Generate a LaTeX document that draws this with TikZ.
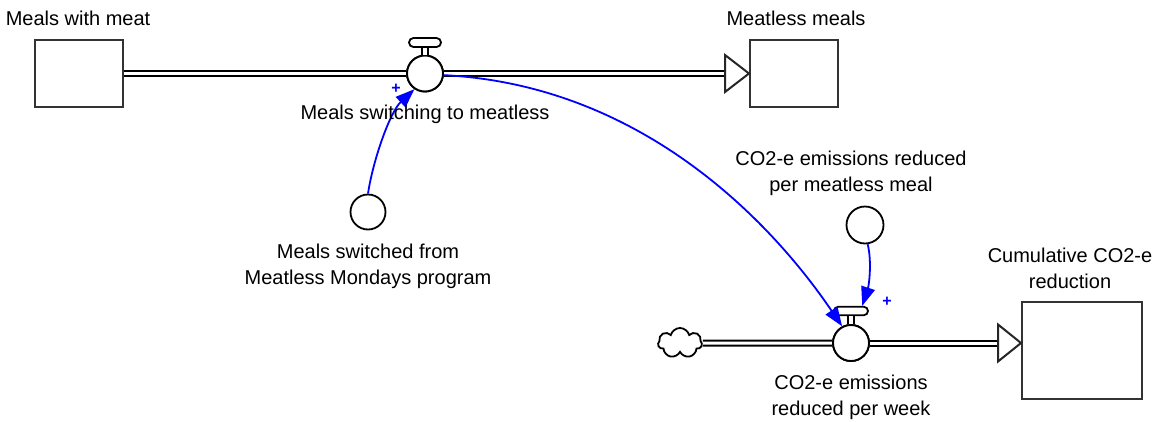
\documentclass[tikz,border=0pt]{standalone}
\usepackage{fontspec}
\setmainfont{Liberation Sans}
\usetikzlibrary{arrows.meta,shapes.symbols,shapes.misc}

\tikzset{
	stock/.style={draw=black!80, line width=2pt, minimum width=88pt, minimum height=67pt},
	valve/.style={circle, draw=black, fill=white, line width=1.9pt, minimum size=36pt, inner sep=0pt},
	aux/.style={circle, draw=black, fill=white, line width=1.8pt, minimum size=35pt, inner sep=0pt},
	bar/.style={rounded rectangle, draw=black, fill=white, line width=1.8pt, minimum width=32pt, minimum height=9pt, inner sep=0pt},
	pipe/.style={draw=black, line width=2pt, double=white, double distance=3pt},
	stem/.style={draw=black, line width=1.6pt, double=white, double distance=4.5pt},
	head/.style={draw=black!85, fill=white, line width=2pt, line join=miter},
	link/.style={blue, line width=1.8pt, -{Triangle[length=19pt,width=14pt]}},
	plus/.style={blue, font=\fontsize{16}{16}\selectfont\bfseries, inner sep=0pt},
	lbl/.style={font=\fontsize{20}{26}\selectfont, align=center, inner sep=0pt}
}

\begin{document}
\begin{tikzpicture}[x=1pt, y=-1pt]
	\useasboundingbox (0,0) rectangle (1170,421);

	% stocks and cloud
	\node[stock] (withmeat) at (79,73.5) {};
	\node[stock] (meatless) at (794,73.5) {};
	\node[stock, minimum width=120pt, minimum height=97pt] (cumul) at (1082,350) {};
	\node[cloud, cloud puffs=7, aspect=1.5, draw=black, line width=1.8pt, minimum width=44pt, minimum height=30pt, inner sep=0pt] (source) at (680,343) {};

	% flows
	\node[valve] (switch) at (425,73.5) {};
	\node[valve] (perweek) at (851,343) {};
	\coordinate (cumin) at (cumul.west |- perweek);
	\draw[pipe] (withmeat.east) -- (switch.west);
	\draw[pipe] (switch.east) -- ([xshift=-24pt]meatless.west);
	\draw[head] ([shift={(-24pt,18.5pt)}]meatless.west) -- (meatless.west) -- ([shift={(-24pt,-18.5pt)}]meatless.west) -- cycle;
	\draw[pipe] (source.east) -- (perweek.west);
	\draw[pipe] (perweek.east) -- ([xshift=-23pt]cumin);
	\draw[head] ([shift={(-23pt,18.5pt)}]cumin) -- (cumin) -- ([shift={(-23pt,-18.5pt)}]cumin) -- cycle;
	\node[valve] at (switch) {};
	\node[valve] at (perweek) {};

	% valve handles
	\node[bar] (switchbar) at (425,42.5) {};
	\node[bar, minimum width=34pt, minimum height=8.5pt] (perweekbar) at (851,311) {};
	\draw[stem] (switchbar.south) -- (switch.north);
	\draw[stem] (perweekbar.south) -- (perweek.north);

	% auxiliaries
	\node[aux] (mondays) at (368,212) {};
	\node[aux, minimum size=37pt] (permeal) at (865,225) {};

	% links
	\draw[link] (mondays.north) .. controls (373,160) and (390,112) .. (switch.-124);
	\draw[link] (switch.-5) .. controls (640,85) and (770,220) .. (perweek.118);
	\draw[link] (permeal.-82) .. controls (872,262) and (869,285) .. ([xshift=-1.5pt]perweekbar.north east);
	\node[plus] at (396,89) {+};
	\node[plus] at (887,302) {+};

	% labels
	\node[lbl] (lwithmeat) at (78,18) {Meals with meat};
	\node[lbl] (lmeatless) at (796,18) {Meatless meals};
	\node[lbl] (lswitch) at (425,114) {Meals switching to meatless};
	\node[lbl] (lmondays) at (368,266) {Meals switched from\\Meatless Mondays program};
	\node[lbl] (lpermeal) at (851,173) {CO2-e emissions reduced\\per meatless meal};
	\node[lbl] (lcumul) at (1070,268) {Cumulative CO2-e\\reduction};
	\node[lbl] (lperweek) at (851,397) {CO2-e emissions\\reduced per week};
\end{tikzpicture}
\end{document}
